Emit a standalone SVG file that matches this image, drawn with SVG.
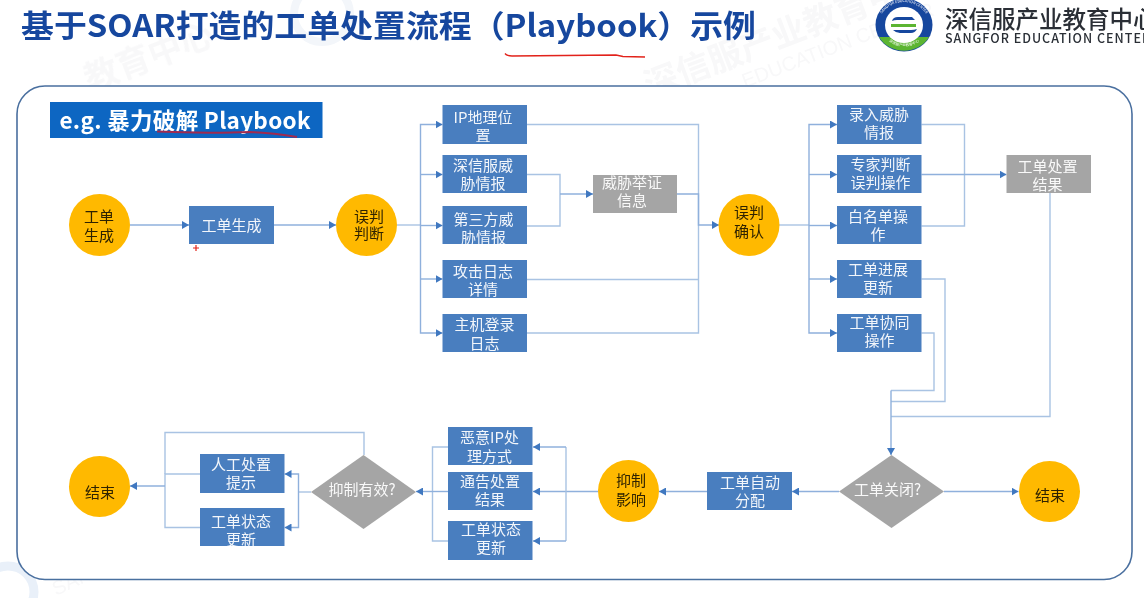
<svg xmlns="http://www.w3.org/2000/svg" width="1144" height="598" viewBox="0 0 1144 598">
<style>
text{font-family:"Noto Sans CJK SC","Noto Sans",sans-serif}
.t{font-size:15px;fill:#fff;text-anchor:middle;fill-opacity:.93}
.d{font-size:15px;fill:#2e2200;text-anchor:middle}
.b{fill:#4a7ebf}
.g{fill:#a5a5a5}
.c{fill:#ffb900}
.l{fill:none;stroke:#a9c3e3;stroke-width:1.4}
.a{fill:none;stroke:#8fb0dc;stroke-width:1.4;marker-end:url(#arrow)}
.wm{font-size:34px;fill:#f8f8f9;font-weight:700}
.wms{font-size:20px;fill:#f8f8f9;font-family:"Liberation Sans",sans-serif}
</style>
<defs>
<marker id="arrow" viewBox="0 0 7 8" refX="7" refY="4" markerWidth="7" markerHeight="8" markerUnits="userSpaceOnUse" orient="auto"><path d="M0 0L7 4L0 8Z" fill="#3f78c0"/></marker>
<filter id="soft" x="0" y="0" width="100%" height="100%"><feGaussianBlur stdDeviation="0.35"/></filter>
<path id="ringTop" d="M879 25A25 23 0 0 1 929 25"/>
<path id="ringBot" d="M883 34A23 21 0 0 0 925 34"/>
</defs>
<rect width="1144" height="598" fill="#fff"/>
<g filter="url(#soft)">
<g id="watermarks">
<text class="wm" transform="translate(650 98) rotate(-21)">深信服产业教育中心</text>
<text class="wms" transform="translate(745 88) rotate(-21)">EDUCATION CENTER</text>
<text class="wm" transform="translate(90 92) rotate(-21)">教育中心</text>
<text class="wms" transform="translate(56 596) rotate(-25)">SANGFOR</text>
<circle cx="322" cy="14" r="28" fill="none" stroke="#f3f6fa" stroke-width="8"/>
<circle cx="8" cy="592" r="26" fill="none" stroke="#e9f0f9" stroke-width="9"/>
</g>
<text id="title" x="21" y="37" font-size="31" font-weight="700" fill="#17479e" textLength="735" lengthAdjust="spacingAndGlyphs">基于SOAR打造的工单处置流程（Playbook）示例</text>
<path id="title-underline" d="M505 53.500Q507 56 512 56L616 55L623 56.500L645 57" fill="none" stroke="#e2231a" stroke-width="1.300"/>
<g id="logo">
<ellipse cx="904" cy="25" rx="28.500" ry="26.500" fill="#17479e"/>
<path d="M879 37A28.500 26.500 0 0 0 929 37Z" fill="#5cb531"/>
<ellipse cx="904" cy="25" rx="19" ry="18" fill="#fff"/>
<path d="M892 21Q893 17 898 17H912L915 20H897Q894 20 892 21Z" fill="#17479e"/>
<path d="M891 24H916V27H891Z" fill="#5cb531"/>
<path d="M893 30Q896 33 900 33H911Q915 33 917 29Q914 30 911 30H893Z" fill="#17479e"/>
<text font-size="3.600" fill="#fff" font-family="Liberation Sans,sans-serif"><textPath href="#ringTop" startOffset="50%" text-anchor="middle">SANGFOR EDUCATION CENTER</textPath></text>
<text font-size="3.600" fill="#fff"><textPath href="#ringBot" startOffset="50%" text-anchor="middle">深信服产业教育中心</textPath></text>
<text x="945" y="28" font-size="23.500" fill="#2a2f36" font-weight="500">深信服产业教育中心</text>
<text x="945" y="43" font-size="12.500" fill="#2a2f36" font-weight="500" letter-spacing="1">SANGFOR EDUCATION CENTER</text>
</g>
<rect id="panel" x="17" y="86" width="1115" height="493.500" rx="28" fill="#fff" stroke="#4a6f9f" stroke-width="1.600"/>
<g id="tag">
<rect x="50" y="102" width="272.500" height="36" fill="#0a66c2"/>
<text x="59.500" y="129" font-size="22.500" font-weight="700" fill="#fff" textLength="251" lengthAdjust="spacing">e.g. 暴力破解 Playbook</text>
<path d="M157 131.500Q200 133.500 250 132Q275 133 297 137" fill="none" stroke="#a02c50" stroke-width="2"/>
</g>

<g id="connectors">
<path class="a" d="M130 225H189"/>
<path class="a" d="M274 225H336"/>
<path class="l" d="M397 225H420.500"/>
<path class="a" d="M420.500 225V124.500H442.500"/>
<path class="a" d="M420.500 174.500H442.500"/>
<path class="a" d="M420.500 225.500H442.500"/>
<path class="a" d="M420.500 225V333H442.500"/>
<path class="a" d="M420.500 279H442.500"/>
<path class="l" d="M527 124.500H698.500V333H527"/>
<path class="l" d="M527 279.500H698.500"/>
<path class="l" d="M527 174.500H560V226H527"/>
<path class="a" d="M560 194H593"/>
<path class="a" d="M677 194H698.500V225H719"/>
<path class="l" d="M779 225H809"/>
<path class="a" d="M809 225V124.500H837"/>
<path class="a" d="M809 174.500H837"/>
<path class="a" d="M809 225.500H837"/>
<path class="a" d="M809 225V333H837"/>
<path class="a" d="M809 279H837"/>
<path class="l" d="M921.500 124.500H964.500V226H921.500"/>
<path class="a" d="M921.500 174.500H1006.500"/>
<path class="l" d="M921.500 279H945V401.500H891"/>
<path class="l" d="M921.500 333H934V390.500H891"/>
<path class="l" d="M1050 193V416.500H891"/>
<path class="a" d="M891 390.500V455"/>
<path class="a" d="M839 491.500H792"/>
<path class="a" d="M944 491.500H1018.500"/>
<path class="a" d="M707 491.500H659"/>
<path class="a" d="M598 491.500H533"/>
<path class="l" d="M566 491.500V447"/>
<path class="l" d="M566 491.500V541"/>
<path class="a" d="M566 447H533"/>
<path class="a" d="M566 541H533"/>
<path class="l" d="M448 447H432.500V541H448"/>
<path class="a" d="M448 491.500H416"/>
<path class="l" d="M311 492H298.500"/>
<path class="a" d="M298.500 492V474H284.500"/>
<path class="a" d="M298.500 492V527.500H284.500"/>
<path class="l" d="M200 474H165V527.500H200"/>
<path class="l" d="M364 455V432.500H165V474"/>
<path class="a" d="M165 486H130"/>
</g>

<g id="n-start"><ellipse class="c" cx="99.500" cy="225" rx="30.500" ry="31"/><text class="d" x="99" y="221.500">工单</text><text class="d" x="99" y="240.500">生成</text></g>
<g id="n-create"><rect class="b" x="189" y="206" width="85" height="38"/><text class="t" x="231.500" y="230.500">工单生成</text></g>
<path id="red-plus" d="M193 248H199M196 245V251" stroke="#e2231a" stroke-width="1.200" fill="none"/>
<g id="n-judge"><ellipse class="c" cx="366.500" cy="225" rx="30.500" ry="31"/><text class="d" x="369" y="221.500">误判</text><text class="d" x="369" y="238.500">判断</text></g>

<g id="n-ip"><rect class="b" x="442.500" y="105" width="84.500" height="39"/><text class="t" x="483" y="122.500">IP地理位</text><text class="t" x="483" y="140.500">置</text></g>
<g id="n-sangfor"><rect class="b" x="442.500" y="155" width="84.500" height="38"/><text class="t" x="483" y="170.500">深信服威</text><text class="t" x="483" y="188.500">胁情报</text></g>
<g id="n-third"><rect class="b" x="442.500" y="206" width="84.500" height="38"/><text class="t" x="483.500" y="224.500">第三方威</text><text class="t" x="483.500" y="242.500">胁情报</text></g>
<g id="n-attack"><rect class="b" x="442.500" y="260" width="84.500" height="38"/><text class="t" x="483" y="276.500">攻击日志</text><text class="t" x="483" y="294.500">详情</text></g>
<g id="n-login"><rect class="b" x="442.500" y="314" width="84.500" height="38"/><text class="t" x="484.500" y="329.500">主机登录</text><text class="t" x="484.500" y="348.500">日志</text></g>
<g id="n-evidence"><rect class="g" x="593" y="175" width="84" height="38"/><text class="t" x="632" y="187.500">威胁举证</text><text class="t" x="632" y="205.500">信息</text></g>
<g id="n-confirm"><ellipse class="c" cx="749" cy="225" rx="30.500" ry="31"/><text class="d" x="749" y="217.500">误判</text><text class="d" x="749" y="236.500">确认</text></g>

<g id="n-input"><rect class="b" x="837" y="105" width="84.500" height="39"/><text class="t" x="879" y="119.500">录入威胁</text><text class="t" x="879" y="137.500">情报</text></g>
<g id="n-expert"><rect class="b" x="837" y="155" width="84.500" height="38"/><text class="t" x="880.500" y="169.500">专家判断</text><text class="t" x="880.500" y="187.500">误判操作</text></g>
<g id="n-white"><rect class="b" x="837" y="206" width="84.500" height="38"/><text class="t" x="878" y="221.500">白名单操</text><text class="t" x="878" y="239.500">作</text></g>
<g id="n-progress"><rect class="b" x="837" y="260" width="84.500" height="38"/><text class="t" x="878" y="274.500">工单进展</text><text class="t" x="878" y="292.500">更新</text></g>
<g id="n-coop"><rect class="b" x="837" y="314" width="84.500" height="38"/><text class="t" x="879.500" y="327.500">工单协同</text><text class="t" x="879.500" y="345.500">操作</text></g>
<g id="n-result"><rect class="g" x="1006.500" y="155" width="84.500" height="38"/><text class="t" x="1047.500" y="171.500">工单处置</text><text class="t" x="1047.500" y="189.500">结果</text></g>

<g id="n-close"><path class="g" d="M891.500 455L944 491.500L891.500 528L839 491.500Z"/><text class="t" x="887.500" y="494.500">工单关闭?</text></g>
<g id="n-end2"><ellipse class="c" cx="1049.500" cy="491.500" rx="30.500" ry="30.500"/><text class="d" x="1050" y="500.500">结束</text></g>
<g id="n-assign"><rect class="b" x="707" y="472" width="85" height="38"/><text class="t" x="750" y="487.500">工单自动</text><text class="t" x="750" y="505.500">分配</text></g>
<g id="n-impact"><ellipse class="c" cx="628.500" cy="491" rx="30.500" ry="31"/><text class="d" x="631" y="485.500">抑制</text><text class="d" x="631" y="504.500">影响</text></g>
<g id="n-malip"><rect class="b" x="448" y="427" width="84.500" height="38"/><text class="t" x="489.500" y="442.500">恶意IP处</text><text class="t" x="489.500" y="461.500">理方式</text></g>
<g id="n-notice"><rect class="b" x="448" y="472" width="84.500" height="38"/><text class="t" x="490" y="486.500">通告处置</text><text class="t" x="490" y="504.500">结果</text></g>
<g id="n-status1"><rect class="b" x="448" y="521" width="84.500" height="39"/><text class="t" x="491" y="534.500">工单状态</text><text class="t" x="491" y="552.500">更新</text></g>
<g id="n-effective"><path class="g" d="M363.500 455L416 492L363.500 529L311 492Z"/><text class="t" x="362" y="494.500">抑制有效?</text></g>
<g id="n-manual"><rect class="b" x="200" y="454" width="84.500" height="39"/><text class="t" x="241" y="469.500">人工处置</text><text class="t" x="241" y="487.500">提示</text></g>
<g id="n-status2"><rect class="b" x="200" y="508" width="84.500" height="38"/><text class="t" x="241" y="526.500">工单状态</text><text class="t" x="241" y="544.500">更新</text></g>
<g id="n-end1"><ellipse class="c" cx="99.500" cy="486.500" rx="30.500" ry="30.500"/><text class="d" x="100" y="497.500">结束</text></g>
</g>
</svg>
